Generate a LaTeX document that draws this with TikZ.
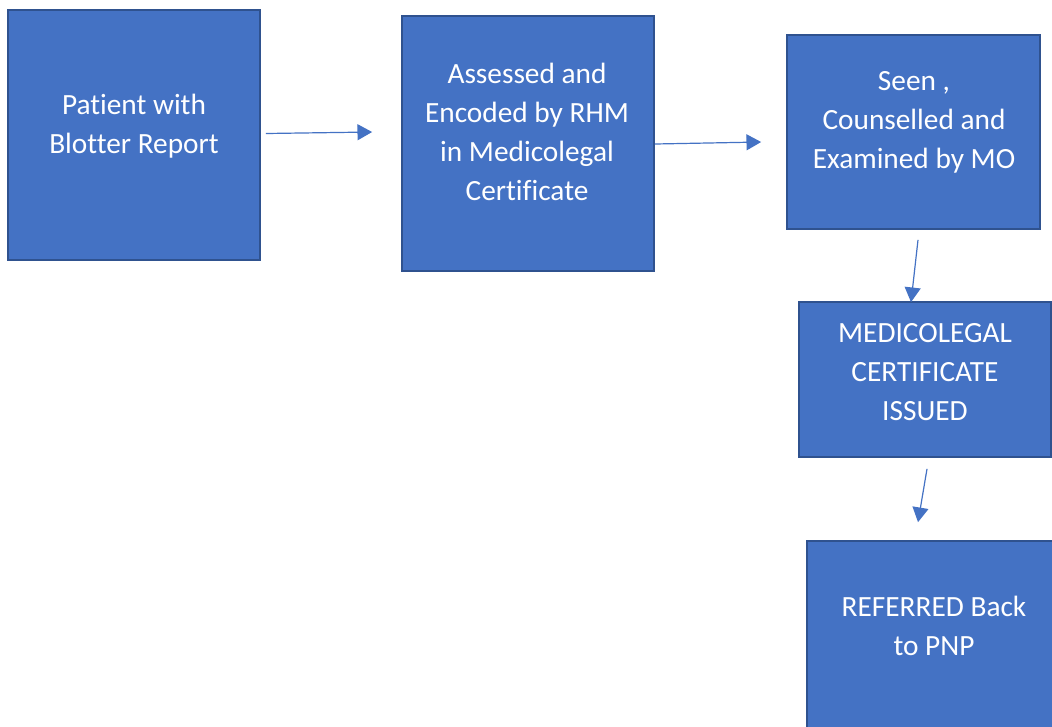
\documentclass[tikz,border=0pt]{standalone}
\usepackage{fontspec}
\setmainfont{Carlito}[Ligatures={NoCommon}]
\usetikzlibrary{arrows.meta,calc}
\definecolor{boxfill}{HTML}{4472C4}
\definecolor{boxline}{HTML}{2F528F}
\definecolor{arrowcol}{HTML}{4472C4}
\tikzset{
  stepbox/.style={rectangle, draw=boxline, fill=boxfill, line width=1.3pt, inner sep=0pt},
  boxtext/.style={text=white, align=center, inner sep=0pt, anchor=base,
    font=\fontsize{22}{29.25}\selectfont},
  flow/.style={draw=arrowcol, line width=0.9pt,
    -{Triangle[length=11pt,width=12pt]}}
}
\begin{document}
\begin{tikzpicture}[x=0.75pt,y=-0.75pt]
\clip (0,0) rectangle (1052,726);
\fill[white] (0,0) rectangle (1052,726);

% process boxes
\node[stepbox, minimum width=189pt, minimum height=187.5pt] (a) at (134,135) {};
\node[stepbox, minimum width=189pt, minimum height=191.25pt] (b) at (528,143.5) {};
\node[stepbox, minimum width=189.75pt, minimum height=145.5pt] (c) at (913.5,132) {};
\node[stepbox, minimum width=189pt, minimum height=116.25pt] (d) at (925,379.5) {};
\node[stepbox, minimum width=197.25pt, minimum height=164.25pt] (e) at (938.5,650.5) {};

% box labels (placed by the baseline of their last line)
\node[boxtext] (ta) at (134,153) {Patient with\\Blotter Report};
\node[boxtext] (tb) at (527,200) {Assessed and\\Encoded by RHM\\in Medicolegal\\Certificate};
\node[boxtext] (tc) at (914,168) {Seen ,\\Counselled and\\Examined by MO};
\node[boxtext] (td) at (925,420) {MEDICOLEGAL\\CERTIFICATE\\ISSUED};
\node[boxtext] (te) at (934,655) {REFERRED Back\\to PNP};

% connector end points
\coordinate (a1) at ($(a.east)+(5,-1.5)$);
\coordinate (b0) at ($(b.west)+(-29,-11.5)$);
\coordinate (b1) at ($(b.east)+(0,0.5)$);
\coordinate (c0) at ($(c.west)+(-25,10)$);
\coordinate (c1) at ($(c.south)+(4.5,10)$);
\coordinate (d0) at ($(d.north)+(-14,1)$);
\coordinate (d1) at ($(d.south)+(2,11)$);
\coordinate (e0) at ($(e.north)+(-20.5,-18)$);

% connectors
\draw[flow] (a1) -- (b0);
\draw[flow] (b1) -- (c0);
\draw[flow] (c1) -- (d0);
\draw[flow] (d1) -- (e0);
\end{tikzpicture}
\end{document}
